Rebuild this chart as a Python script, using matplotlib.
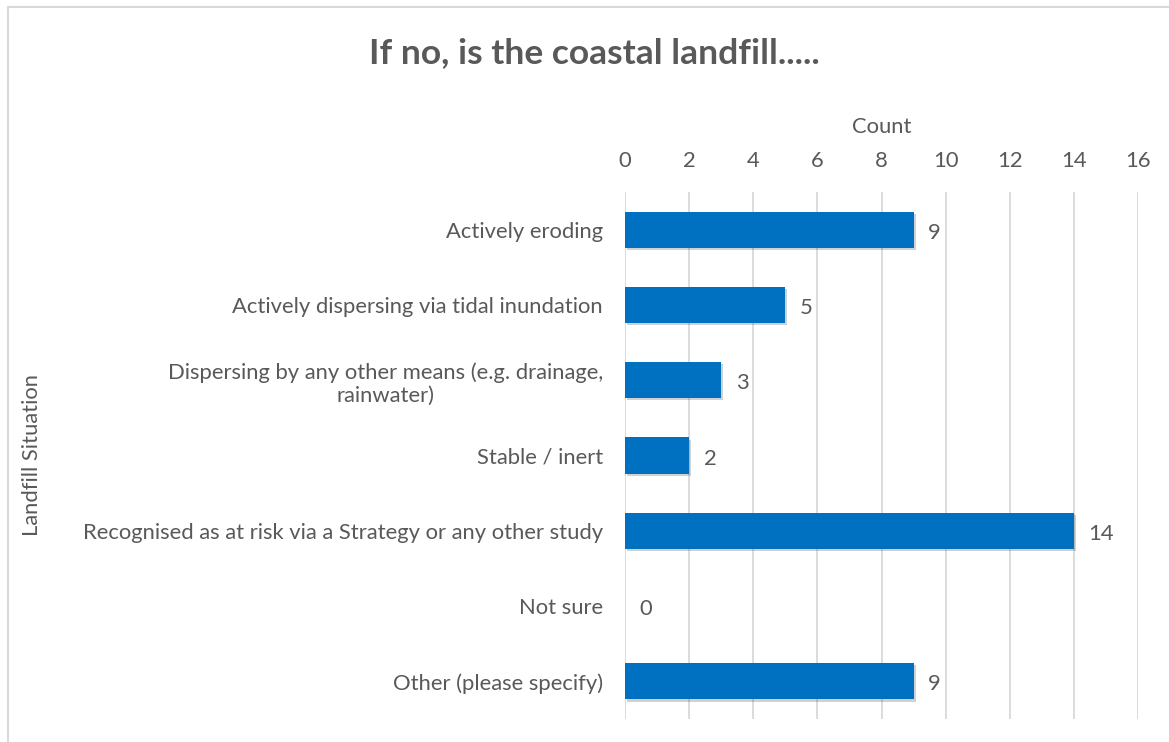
import matplotlib.pyplot as plt
import matplotlib.patheffects as pe
from matplotlib.lines import Line2D

plt.rcParams['font.family'] = ['Lato', 'DejaVu Sans']

situations = [
    "Actively eroding",
    "Actively dispersing via tidal inundation",
    "Dispersing by any other means (e.g. drainage,\nrainwater)",
    "Stable / inert",
    "Recognised as at risk via a Strategy or any other study",
    "Not sure",
    "Other (please specify)",
]
counts = [9, 5, 3, 2, 14, 0, 9]
ticks = [0, 2, 4, 6, 8, 10, 12, 14, 16]

TEXT = "#595959"
GRID = "#D9D9D9"
BAR = "#0070C0"
FS = 15.8

W, H = 1169, 742
fig = plt.figure(figsize=(W / 100, H / 100), dpi=100)
ax = fig.add_axes([625 / W, 23 / H, 513 / W, 527 / H])

ypos = list(range(len(situations)))
ax.barh(ypos, counts, height=0.48, color=BAR, zorder=3,
        path_effects=[pe.SimplePatchShadow(offset=(1.5, -1.5), alpha=0.22, shadow_rgbFace="#303030"),
                      pe.Normal()])
for y, c in zip(ypos, counts):
    ax.text(c + 0.45, y + 0.04, str(c), va="center", ha="left", fontsize=FS, color=TEXT)

ax.set_xlim(0, 16)
ax.set_ylim(len(situations) - 0.5, -0.5)
ax.set_xticks(ticks)
ax.xaxis.tick_top()
ax.xaxis.set_label_position("top")
ax.tick_params(axis="x", length=0, labelsize=FS, labelcolor=TEXT, pad=15)
ax.tick_params(axis="y", length=0, labelsize=FS, labelcolor=TEXT, pad=16)
ax.set_yticks(ypos)
ax.set_yticklabels(situations, ha="right", multialignment="center")
ax.grid(axis="x", color=GRID, linewidth=1.3, zorder=0)
for s in ax.spines.values():
    s.set_visible(False)

ax.set_xlabel("Count", fontsize=FS, color=TEXT, labelpad=13)
fig.text(32 / W, 1 - 455 / H, "Landfill Situation", rotation=90, ha="center", va="center",
         fontsize=FS, color=TEXT)
fig.text(594 / W, 1 - 53 / H, "If no, is the coastal landfill.....", ha="center", va="center",
         fontsize=25.5, fontweight="bold", color=TEXT)

# chart frame (left and top edges)
fig.add_artist(Line2D([8 / W, 8 / W], [0, 1 - 7 / H], color=GRID, linewidth=1.5))
fig.add_artist(Line2D([8 / W, 1], [1 - 7 / H, 1 - 7 / H], color=GRID, linewidth=1.5))

fig.savefig("out.png", dpi=100, facecolor="white")
